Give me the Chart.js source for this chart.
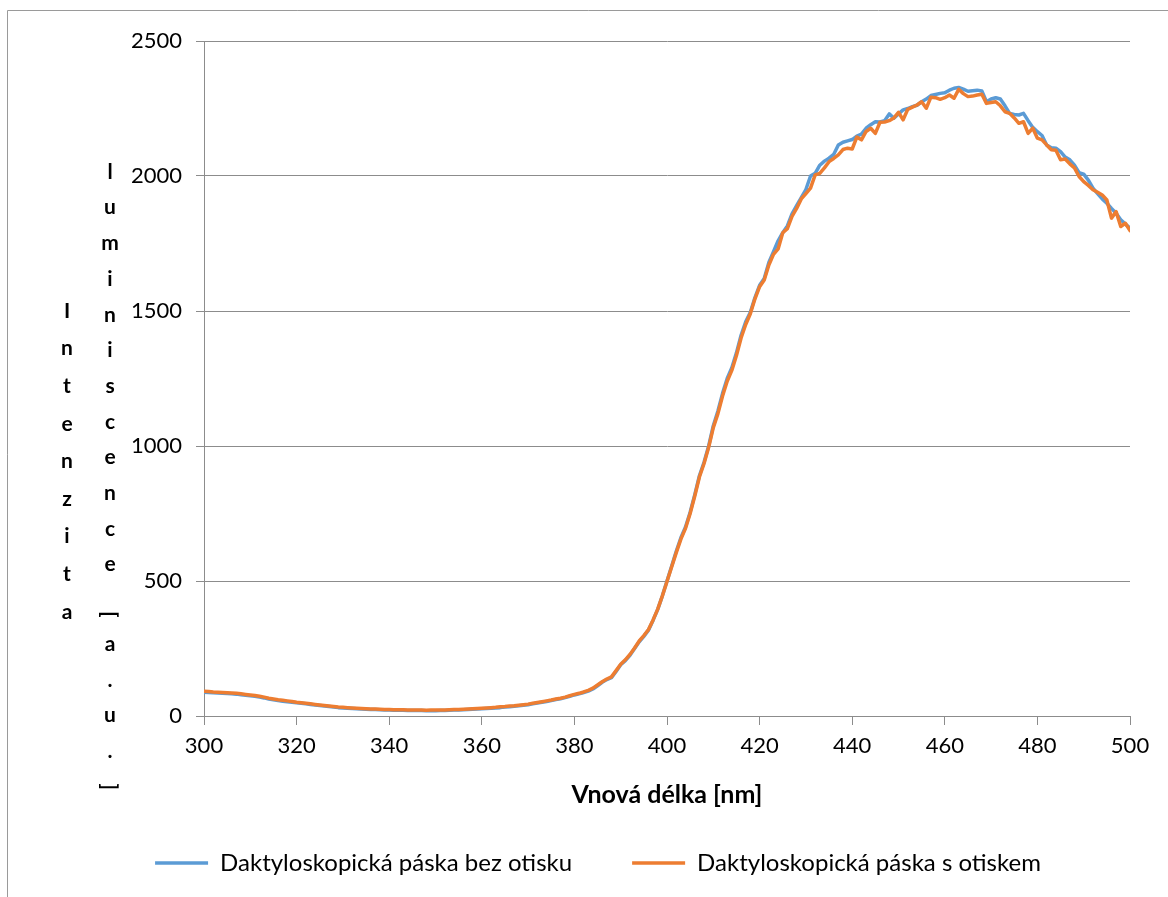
<!DOCTYPE html>
<html>
<head>
<meta charset="utf-8">
<script src="https://cdn.jsdelivr.net/npm/chart.js@4.4.1/dist/chart.umd.min.js"></script>
<style>
  body { margin: 0; background: #fff; }
  #chart-box { position: relative; width: 1168px; height: 897px; }
</style>
</head>
<body>
<div id="chart-box"><canvas id="spectrum" width="1168" height="897"></canvas></div>
<script>
// wavelengths [nm]
const wavelengths = [
  300, 301, 302, 303, 304, 305, 306, 307, 308, 309,
  310, 311, 312, 313, 314, 315, 316, 317, 318, 319,
  320, 321, 322, 323, 324, 325, 326, 327, 328, 329,
  330, 331, 332, 333, 334, 335, 336, 337, 338, 339,
  340, 341, 342, 343, 344, 345, 346, 347, 348, 349,
  350, 351, 352, 353, 354, 355, 356, 357, 358, 359,
  360, 361, 362, 363, 364, 365, 366, 367, 368, 369,
  370, 371, 372, 373, 374, 375, 376, 377, 378, 379,
  380, 381, 382, 383, 384, 385, 386, 387, 388, 389,
  390, 391, 392, 393, 394, 395, 396, 397, 398, 399,
  400, 401, 402, 403, 404, 405, 406, 407, 408, 409,
  410, 411, 412, 413, 414, 415, 416, 417, 418, 419,
  420, 421, 422, 423, 424, 425, 426, 427, 428, 429,
  430, 431, 432, 433, 434, 435, 436, 437, 438, 439,
  440, 441, 442, 443, 444, 445, 446, 447, 448, 449,
  450, 451, 452, 453, 454, 455, 456, 457, 458, 459,
  460, 461, 462, 463, 464, 465, 466, 467, 468, 469,
  470, 471, 472, 473, 474, 475, 476, 477, 478, 479,
  480, 481, 482, 483, 484, 485, 486, 487, 488, 489,
  490, 491, 492, 493, 494, 495, 496, 497, 498, 499,
  500
]

// páska bez otisku
const bezOtisku = [
  88, 87, 86, 85, 84, 83, 82, 81, 79, 77,
  75, 73, 70, 67, 63, 60, 57, 55, 53, 51,
  49, 47, 45, 43, 41, 39, 37, 35, 33, 31,
  30, 29, 28, 27, 26, 25, 24, 24, 23, 22,
  22, 21, 21, 21, 20, 20, 20, 20, 19, 19,
  19, 20, 20, 21, 22, 22, 23, 24, 25, 26,
  27, 28, 29, 30, 31, 33, 34, 36, 38, 40,
  42, 45, 48, 51, 54, 57, 61, 64, 68, 73,
  78, 82, 87, 92, 100, 112, 125, 135, 142, 165,
  190, 205, 225, 250, 275, 295, 318, 355, 395, 445,
  500, 555, 610, 660, 700, 755, 820, 890, 940, 1000,
  1075, 1130, 1195, 1250, 1290, 1345, 1410, 1460, 1495, 1550,
  1595, 1620, 1680, 1720, 1760, 1790, 1815, 1860, 1890, 1920,
  1950, 2000, 2010, 2040, 2055, 2066, 2080, 2115, 2125, 2130,
  2135, 2148, 2155, 2177, 2190, 2201, 2200, 2205, 2230, 2214,
  2230, 2245, 2250, 2257, 2262, 2275, 2285, 2298, 2302, 2306,
  2308, 2318, 2325, 2328, 2322, 2314, 2316, 2318, 2315, 2275,
  2285, 2290, 2285, 2260, 2232, 2228, 2226, 2232, 2205, 2180,
  2164, 2150, 2115, 2105, 2103, 2090, 2070, 2060, 2040, 2012,
  2007, 1985, 1955, 1935, 1915, 1899, 1880, 1862, 1838, 1822,
  1807
]

// páska s otiskem
const sOtiskem = [
  92, 91, 89, 88, 87, 86, 85, 84, 82, 80,
  78, 76, 73, 70, 66, 63, 60, 58, 56, 54,
  51, 49, 47, 45, 43, 41, 39, 37, 35, 33,
  32, 31, 30, 29, 28, 27, 26, 26, 25, 24,
  24, 23, 23, 23, 22, 22, 22, 22, 21, 22,
  22, 22, 22, 23, 24, 24, 25, 26, 27, 28,
  29, 30, 31, 32, 34, 35, 37, 38, 40, 42,
  44, 47, 50, 53, 56, 59, 63, 66, 70, 75,
  80, 84, 89, 95, 103, 115, 127, 137, 145, 168,
  192, 208, 228, 252, 278, 298, 320, 356, 396, 445,
  498, 552, 605, 655, 695, 750, 815, 885, 935, 995,
  1068, 1120, 1185, 1240, 1280, 1335, 1400, 1450, 1490, 1545,
  1590, 1615, 1670, 1710, 1730, 1790, 1805, 1850, 1880, 1915,
  1935, 1955, 2004, 2010, 2030, 2053, 2065, 2078, 2098, 2103,
  2100, 2144, 2134, 2165, 2177, 2158, 2199, 2200, 2205, 2215,
  2236, 2208, 2247, 2255, 2263, 2275, 2251, 2292, 2290, 2284,
  2290, 2300, 2288, 2321, 2305, 2294, 2296, 2300, 2303, 2269,
  2272, 2275, 2260, 2238, 2232, 2215, 2195, 2201, 2158, 2177,
  2140, 2134, 2115, 2097, 2095, 2060, 2063, 2045, 2030, 1998,
  1979, 1965, 1949, 1940, 1930, 1911, 1844, 1868, 1813, 1825,
  1798
]

const seriesNames = ['Daktyloskopická páska bez otisku', 'Daktyloskopická páska s otiskem']
const xTitle = 'Vnová délka [nm]'
// y title is stacked letter by letter in two columns, like the Excel original
const yTitleCols = ['Intenzita', 'luminiscence[a.u.]']

const toPoints = (values) => values.map((v, i) => ({ x: wavelengths[i], y: v }))

const axisGrey = '#8c8c8c'
const font = 'Lato'

// outer frame + vertical y title
const decorations = {
  id: 'decorations',
  beforeDraw(chart) {
    const ctx = chart.ctx
    ctx.save()
    ctx.strokeStyle = '#9a9a9a'
    ctx.lineWidth = 1
    ctx.beginPath()
    ctx.moveTo(7.5, 1200)
    ctx.lineTo(7.5, 10.5)
    ctx.lineTo(1200, 10.5)
    ctx.stroke()
    ctx.restore()
  },
  afterDraw(chart) {
    const ctx = chart.ctx
    const cols = [
      { x: 67, y: 311, step: 37.6 },
      { x: 110, y: 172, step: 35.7 },
    ]
    ctx.save()
    ctx.fillStyle = '#000'
    ctx.font = `bold 21px ${font}`
    ctx.textAlign = 'center'
    ctx.textBaseline = 'middle'
    yTitleCols.forEach((text, c) => {
      const col = cols[c]
      let y = col.y
      Array.from(text).forEach((ch, i) => {
        if (i > 0) y += col.step
        if (ch === '[' || ch === ']') {
          // brackets turn sideways in stacked text
          if (ch === '[') y += 14
          ctx.save()
          ctx.translate(col.x, y)
          ctx.rotate(Math.PI / 2)
          ctx.fillText(ch, 0, 0)
          ctx.restore()
          if (ch === '[') y -= 6
        } else {
          ctx.fillText(ch, col.x, y)
        }
      })
    })
    ctx.restore()
  }
}

const ctx = document.getElementById('spectrum').getContext('2d')

new Chart(ctx, {
  type: 'line',
  data: {
    datasets: [
      {
        label: seriesNames[0],
        data: toPoints(bezOtisku),
        borderColor: '#5B9BD5',
        backgroundColor: '#5B9BD5',
        borderWidth: 3.5,
        order: 2,
      },
      {
        label: seriesNames[1],
        data: toPoints(sOtiskem),
        borderColor: '#ED7D31',
        backgroundColor: '#ED7D31',
        borderWidth: 3.5,
        order: 1,
      },
    ]
  },
  options: {
    responsive: false,
    animation: false,
    layout: { padding: { left: 66, right: 38, top: 41, bottom: 12 } },
    elements: {
      point: { radius: 0 },
      line: { tension: 0, borderCapStyle: 'round', borderJoinStyle: 'round' },
    },
    plugins: {
      tooltip: { enabled: false },
      legend: {
        position: 'bottom',
        labels: {
          usePointStyle: true,
          pointStyle: 'line',
          pointStyleWidth: 53,
          padding: 60,
          color: '#000',
          font: { family: font, size: 24 },
          sort: (a, b) => a.datasetIndex - b.datasetIndex,
        }
      }
    },
    scales: {
      x: {
        type: 'linear',
        min: 300,
        max: 500,
        afterFit(scale) { scale.height = 75 },
        ticks: {
          stepSize: 20,
          padding: 8,
          color: '#000',
          font: { family: font, size: 22 },
        },
        grid: { drawOnChartArea: false, drawTicks: true, tickLength: 9, color: axisGrey },
        border: { display: true, color: axisGrey },
        title: {
          display: true,
          text: xTitle,
          color: '#000',
          font: { family: font, size: 25, weight: 'bold' },
          padding: { top: 0, bottom: -19 },
        },
      },
      y: {
        min: 0,
        max: 2500,
        afterFit(scale) { scale.width = 138 },
        ticks: {
          stepSize: 500,
          padding: 14,
          color: '#000',
          font: { family: font, size: 22 },
          callback: (value) => String(value),
        },
        grid: { tickLength: 8, color: axisGrey },
        border: { display: true, color: axisGrey },
      },
    },
  },
  plugins: [decorations]
})
</script>
</body>
</html>
